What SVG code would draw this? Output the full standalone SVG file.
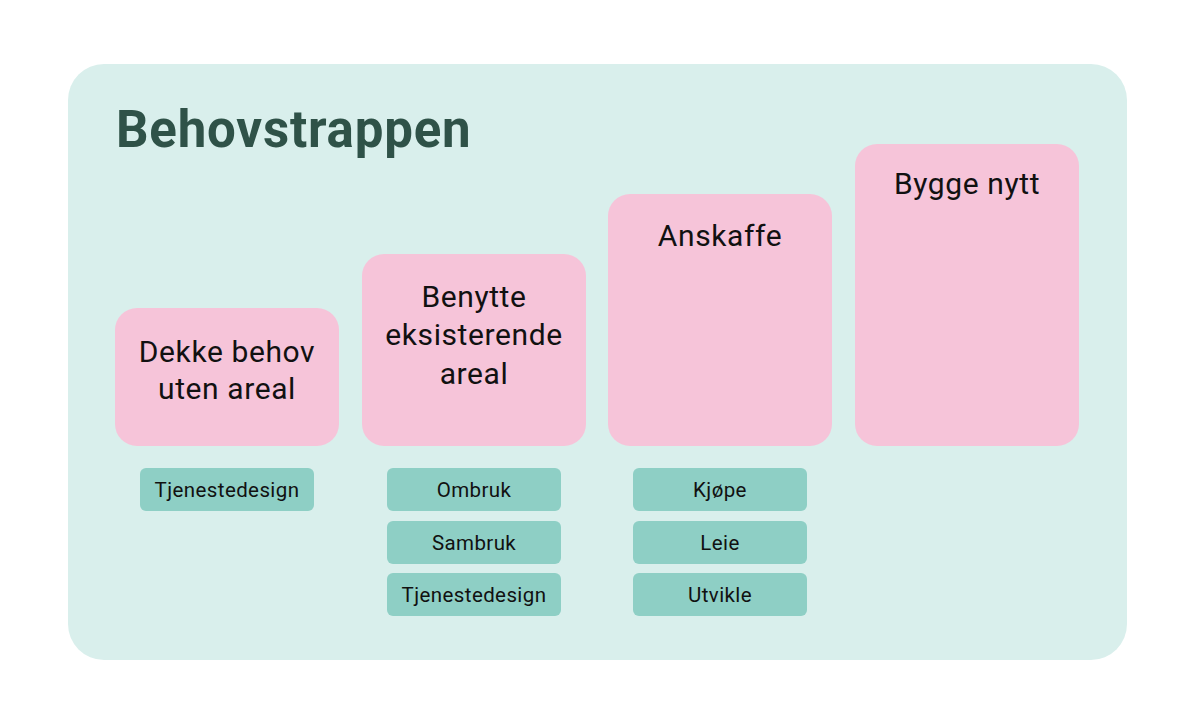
<svg xmlns="http://www.w3.org/2000/svg" width="1200" height="715" viewBox="0 0 1200 715">
<style>
.step{fill:#f6c4d9}
.opt{fill:#8ecfc5}
.st{font-family:Roboto,"Liberation Sans",sans-serif;font-size:30px;letter-spacing:0.6px;fill:#111;text-anchor:middle}
.ot{font-family:Roboto,"Liberation Sans",sans-serif;font-size:20.5px;letter-spacing:0.4px;fill:#111;text-anchor:middle}
</style>
<rect x="68" y="64" width="1059" height="596" rx="36" fill="#d9efec"/>
<text x="116" y="147" font-family="Roboto,'Liberation Sans',sans-serif" font-weight="bold" font-size="51" letter-spacing="0.8" fill="#2f5248">Behovstrappen</text>
<g id="step1">
<rect class="step" x="115" y="308" width="224" height="138" rx="22"/>
<text class="st" x="227" y="362">Dekke behov</text>
<text class="st" x="227" y="399">uten areal</text>
</g>
<g id="step2">
<rect class="step" x="362" y="254" width="224" height="192" rx="22"/>
<text class="st" x="474" y="307">Benytte</text>
<text class="st" x="474" y="345">eksisterende</text>
<text class="st" x="474" y="384">areal</text>
</g>
<g id="step3">
<rect class="step" x="608" y="194" width="224" height="252" rx="22"/>
<text class="st" x="720" y="246">Anskaffe</text>
</g>
<g id="step4">
<rect class="step" x="855" y="144" width="224" height="302" rx="22"/>
<text class="st" x="967" y="194">Bygge nytt</text>
</g>
<g id="opt1a">
<rect class="opt" x="140" y="468" width="174" height="43" rx="6"/>
<text class="ot" x="227" y="497">Tjenestedesign</text>
</g>
<g id="opt2a">
<rect class="opt" x="387" y="468" width="174" height="43" rx="6"/>
<text class="ot" x="474" y="497">Ombruk</text>
</g>
<g id="opt2b">
<rect class="opt" x="387" y="521" width="174" height="43" rx="6"/>
<text class="ot" x="474" y="550">Sambruk</text>
</g>
<g id="opt2c">
<rect class="opt" x="387" y="573" width="174" height="43" rx="6"/>
<text class="ot" x="474" y="602">Tjenestedesign</text>
</g>
<g id="opt3a">
<rect class="opt" x="633" y="468" width="174" height="43" rx="6"/>
<text class="ot" x="720" y="497">Kjøpe</text>
</g>
<g id="opt3b">
<rect class="opt" x="633" y="521" width="174" height="43" rx="6"/>
<text class="ot" x="720" y="550">Leie</text>
</g>
<g id="opt3c">
<rect class="opt" x="633" y="573" width="174" height="43" rx="6"/>
<text class="ot" x="720" y="602">Utvikle</text>
</g>
<g id="connectors"/>
</svg>
